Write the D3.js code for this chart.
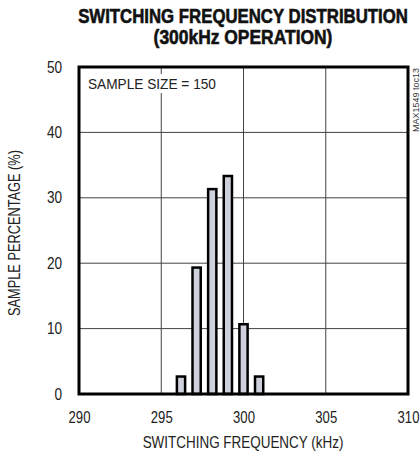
<!DOCTYPE html>
<html><head><meta charset="utf-8">
<script src="https://cdn.jsdelivr.net/npm/d3@7"></script>
<style>body{margin:0;background:#fff}svg{display:block}</style>
</head><body>
<script>
const freqs = [296.2, 297.15, 298.1, 299.05, 300.0, 300.95];
const percents = [2.67, 19.33, 31.33, 33.33, 10.67, 2.67];
const xTicks = [290, 295, 300, 305, 310];
const yTicks = [0, 10, 20, 30, 40, 50];
const titleLines = ["SWITCHING FREQUENCY DISTRIBUTION", "(300kHz OPERATION)"];

const W = 420, H = 460;
const m = {l: 79, r: 408, t: 67, b: 394};
const svg = d3.select("body").append("svg").attr("width", W).attr("height", H);
const x = d3.scaleLinear().domain([290, 310]).range([m.l, m.r]);
const y = d3.scaleLinear().domain([0, 50]).range([m.b, m.t]);
const font = "'Liberation Sans',Arial,sans-serif";

// place text at (px,py) horizontally scaled to a target width (true bbox)
function fitText(g, str, px, py, target, attrs, rot) {
  const t = g.append("text").attr("x", 0).attr("y", 0).text(str);
  Object.entries(attrs).forEach(([k, v]) => t.attr(k, v));
  const w = t.node().getComputedTextLength();
  const s = target / w;
  t.attr("transform", `translate(${px},${py})${rot ? ` rotate(${rot})` : ""} scale(${s},1)`);
  return t;
}
function squeeze(sel, factor) {
  sel.attr("transform", `scale(${factor},1)`);
}

// title
const tLens = [330, 179];
titleLines.forEach((s, i) => fitText(svg, s, 243, 23 + i * 21, tLens[i], {
  "text-anchor": "middle", "font-family": font, "font-weight": "bold", "font-size": 20,
  "fill": "#111", "stroke": "#111", "stroke-width": 0.6}));

// grid
const grid = svg.append("g");
grid.selectAll("line.v").data(xTicks.slice(1, -1)).join("line")
  .attr("x1", d => x(d)).attr("x2", d => x(d)).attr("y1", m.t).attr("y2", m.b)
  .attr("stroke", "#444").attr("stroke-width", 1);
grid.selectAll("line.h").data(yTicks.slice(1, -1)).join("line")
  .attr("x1", m.l).attr("x2", m.r).attr("y1", d => y(d)).attr("y2", d => y(d))
  .attr("stroke", "#444").attr("stroke-width", 1);

// sample size label with background
svg.append("rect").attr("x", 85).attr("y", 74).attr("width", 134).attr("height", 19).attr("fill", "#fff");
fitText(svg, "SAMPLE SIZE = 150", 88, 89, 128, {"font-family": font, "font-size": 14, "fill": "#222"});

// bars
const bw = 0.5;
svg.append("g").selectAll("rect").data(freqs).join("rect")
  .attr("x", (d) => x(d - bw / 2)).attr("width", x(290 + bw) - x(290))
  .attr("y", (d, i) => y(percents[i])).attr("height", (d, i) => y(0) - y(percents[i]))
  .attr("fill", "#cdd1dc").attr("stroke", "#000").attr("stroke-width", 2.5);

// frame
svg.append("rect").attr("x", m.l).attr("y", m.t).attr("width", m.r - m.l).attr("height", m.b - m.t)
  .attr("fill", "none").attr("stroke", "#000").attr("stroke-width", 3);

// axes
const xAxis = svg.append("g").attr("transform", `translate(0,${m.b + 29})`)
  .call(d3.axisBottom(x).tickValues(xTicks).tickSize(0).tickPadding(0));
xAxis.select(".domain").remove();
xAxis.selectAll("text").attr("dy", 0).attr("font-family", font).attr("font-size", 16).attr("fill", "#222")
  .call(squeeze, 0.82);

const yAxis = svg.append("g").attr("transform", `translate(${m.l - 17},0)`)
  .call(d3.axisLeft(y).tickValues(yTicks).tickSize(0).tickPadding(0));
yAxis.select(".domain").remove();
yAxis.selectAll("text").attr("font-family", font).attr("font-size", 16).attr("fill", "#222")
  .call(squeeze, 0.85);

// axis titles
fitText(svg, "SWITCHING FREQUENCY (kHz)", 243, 448, 201,
  {"text-anchor": "middle", "font-family": font, "font-size": 16, "fill": "#222"});
fitText(svg, "SAMPLE PERCENTAGE (%)", 20, 233, 166,
  {"text-anchor": "middle", "font-family": font, "font-size": 16, "fill": "#222"}, -90);

// side code
fitText(svg, "MAX1549 toc13", 419, 132, 64,
  {"font-family": font, "font-size": 9.5, "fill": "#333"}, -90);
</script>
</body></html>
